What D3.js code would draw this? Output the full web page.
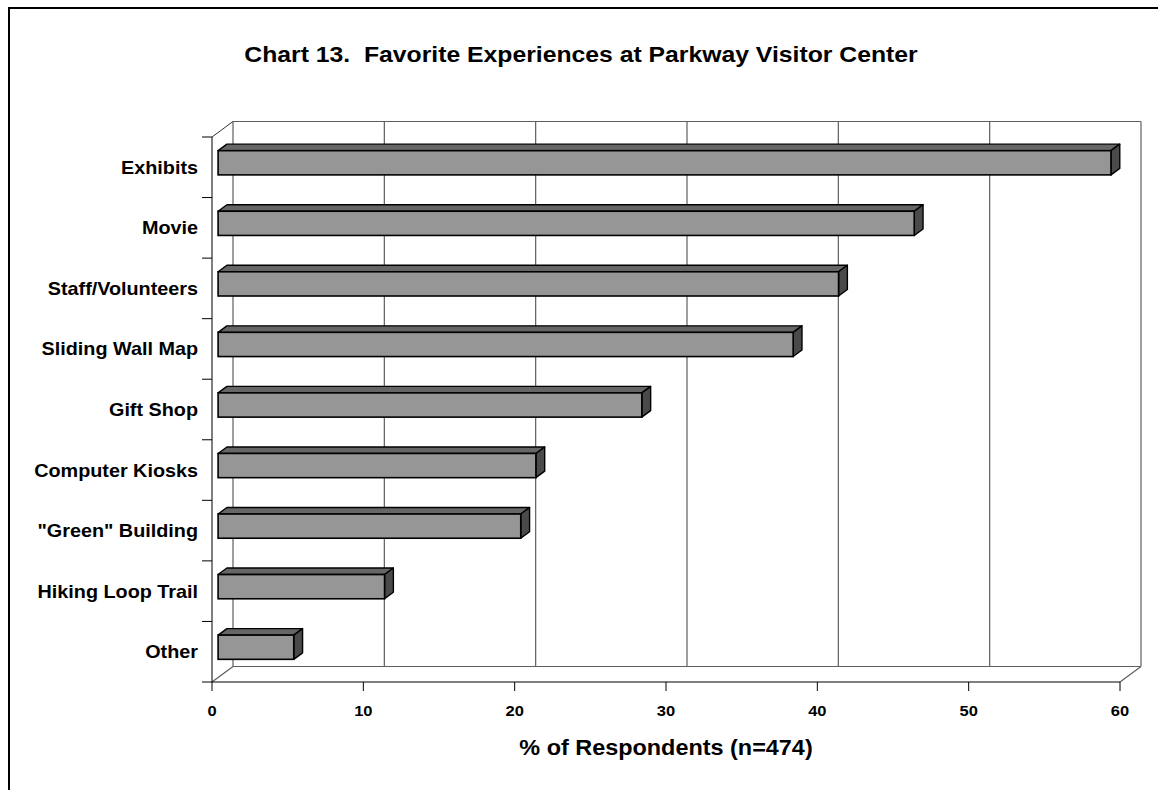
<!DOCTYPE html>
<html>
<head>
<meta charset="utf-8">
<script src="https://cdn.jsdelivr.net/npm/d3@7"></script>
<style>
  html, body { margin: 0; padding: 0; background: #fff; }
  svg { display: block; }
  text { font-family: "Liberation Sans", Arial, sans-serif; font-weight: bold; fill: #000; white-space: pre; }
</style>
</head>
<body>
<svg id="chart" width="1158" height="790"></svg>
<script>
// Chart data
const categories = ["Exhibits", "Movie", "Staff/Volunteers", "Sliding Wall Map", "Gift Shop",
  "Computer Kiosks", "\"Green\" Building", "Hiking Loop Trail", "Other"];
const percents = [59, 46, 41, 38, 28, 21, 20, 11, 5];
const xTicks = [0, 10, 20, 30, 40, 50, 60];
const titleText = "Chart 13.  Favorite Experiences at Parkway Visitor Center";
const axisTitle = "% of Respondents (n=474)";

const svg = d3.select("#chart");
// text is set slightly wide
const stretch = 1.1;
const place = (px, py) => `translate(${px},${py}) scale(${stretch},1)`;

// Outer frame
svg.append("rect")
  .attr("x", 9).attr("y", 8).attr("width", 1200).attr("height", 820)
  .attr("fill", "none").attr("stroke", "#000").attr("stroke-width", 2);

// Front plane of the 3-D plot
const plotLeft = 212, plotRight = 1120, plotTop = 137, plotBottom = 682;
// Depth offset of the back wall
const depth = { dx: 21, dy: -15.5 };
// Bars occupy the middle portion of the depth
const f1 = 0.29, f2 = 0.71;

const x = d3.scaleLinear().domain([0, 60]).range([plotLeft, plotRight]);
const y = d3.scaleBand().domain(categories).range([plotTop, plotBottom])
  .paddingInner(0.6).paddingOuter(0.3);

const wallColor = "#5e5e5e";

// Back wall and floor
const g = svg.append("g");
const bx0 = x(0) + depth.dx, bx1 = x(60) + depth.dx;
const by0 = plotTop + depth.dy, by1 = plotBottom + depth.dy;

// gridlines on the back wall
g.selectAll("line.grid").data(xTicks).join("line")
  .attr("class", "grid")
  .attr("x1", d => x(d) + depth.dx).attr("x2", d => x(d) + depth.dx)
  .attr("y1", by0).attr("y2", by1)
  .attr("stroke", wallColor).attr("stroke-width", 1.2);
// top edge of back wall
g.append("line").attr("x1", bx0).attr("x2", bx1).attr("y1", by0).attr("y2", by0)
  .attr("stroke", wallColor).attr("stroke-width", 1.2);
// back edge of floor
g.append("line").attr("x1", bx0).attr("x2", bx1).attr("y1", by1).attr("y2", by1)
  .attr("stroke", wallColor).attr("stroke-width", 1.2);
// floor diagonals
g.append("line").attr("x1", x(0)).attr("y1", plotBottom).attr("x2", bx0).attr("y2", by1)
  .attr("stroke", wallColor).attr("stroke-width", 1.2);
g.append("line").attr("x1", x(60)).attr("y1", plotBottom).attr("x2", bx1).attr("y2", by1)
  .attr("stroke", wallColor).attr("stroke-width", 1.2);
// left wall top diagonal
g.append("line").attr("x1", x(0)).attr("y1", plotTop).attr("x2", bx0).attr("y2", by0)
  .attr("stroke", "#333").attr("stroke-width", 1);

// Bars (front face, top face, side face)
const bars = svg.append("g").selectAll("g.bar")
  .data(categories.map((c, i) => ({ c, v: percents[i] })))
  .join("g").attr("class", "bar");

const ox1 = f1 * depth.dx, oy1 = f1 * depth.dy;
const ox2 = f2 * depth.dx, oy2 = f2 * depth.dy;

bars.each(function (d) {
  const sel = d3.select(this);
  const x0 = x(0) + ox1, x1 = x(d.v) + ox1;
  const y0 = y(d.c) + oy1, y1 = y0 + y.bandwidth();
  const ddx = ox2 - ox1, ddy = oy2 - oy1;
  // top face
  sel.append("path")
    .attr("d", `M${x0},${y0} L${x0 + ddx},${y0 + ddy} L${x1 + ddx},${y0 + ddy} L${x1},${y0} Z`)
    .attr("fill", "#666666").attr("stroke", "#000").attr("stroke-width", 1.4)
    .attr("stroke-linejoin", "round");
  // side face
  sel.append("path")
    .attr("d", `M${x1},${y0} L${x1 + ddx},${y0 + ddy} L${x1 + ddx},${y1 + ddy} L${x1},${y1} Z`)
    .attr("fill", "#4a4a4a").attr("stroke", "#000").attr("stroke-width", 1.4)
    .attr("stroke-linejoin", "round");
  // front face
  sel.append("rect")
    .attr("x", x0).attr("y", y0).attr("width", x1 - x0).attr("height", y1 - y0)
    .attr("fill", "#969696").attr("stroke", "#000").attr("stroke-width", 1.6);
});

// Front axes
const ax = svg.append("g");
ax.append("line").attr("x1", plotLeft).attr("x2", plotLeft).attr("y1", plotTop).attr("y2", plotBottom)
  .attr("stroke", "#000").attr("stroke-width", 1);
ax.append("line").attr("x1", plotLeft).attr("x2", plotRight).attr("y1", plotBottom).attr("y2", plotBottom)
  .attr("stroke", "#000").attr("stroke-width", 1);

// category boundary ticks
const tickYs = d3.range(categories.length + 1)
  .map(i => plotTop + i * (plotBottom - plotTop) / categories.length);
ax.selectAll("line.ytick").data(tickYs).join("line")
  .attr("class", "ytick")
  .attr("x1", plotLeft - 10).attr("x2", plotLeft).attr("y1", d => d).attr("y2", d => d)
  .attr("stroke", "#000").attr("stroke-width", 1);

// value ticks
ax.selectAll("line.xtick").data(xTicks).join("line")
  .attr("class", "xtick")
  .attr("x1", d => x(d)).attr("x2", d => x(d)).attr("y1", plotBottom).attr("y2", plotBottom + 9)
  .attr("stroke", "#000").attr("stroke-width", 1);

ax.selectAll("text.xlab").data(xTicks).join("text")
  .attr("class", "xlab")
  .attr("transform", d => place(x(d), 716))
  .attr("text-anchor", "middle").attr("font-size", 15)
  .text(d => d);

// category labels
ax.selectAll("text.ylab").data(categories).join("text")
  .attr("class", "ylab")
  .attr("transform", d => place(198, y(d) + y.bandwidth() / 2))
  .attr("dy", "0.36em")
  .attr("text-anchor", "end").attr("font-size", 18)
  .text(d => d);

// Titles
svg.append("text")
  .attr("transform", place(581, 62))
  .attr("text-anchor", "middle").attr("font-size", 22.5)
  .text(titleText);

svg.append("text")
  .attr("transform", place(666, 755))
  .attr("text-anchor", "middle").attr("font-size", 21.3)
  .text(axisTitle);
</script>
</body>
</html>
